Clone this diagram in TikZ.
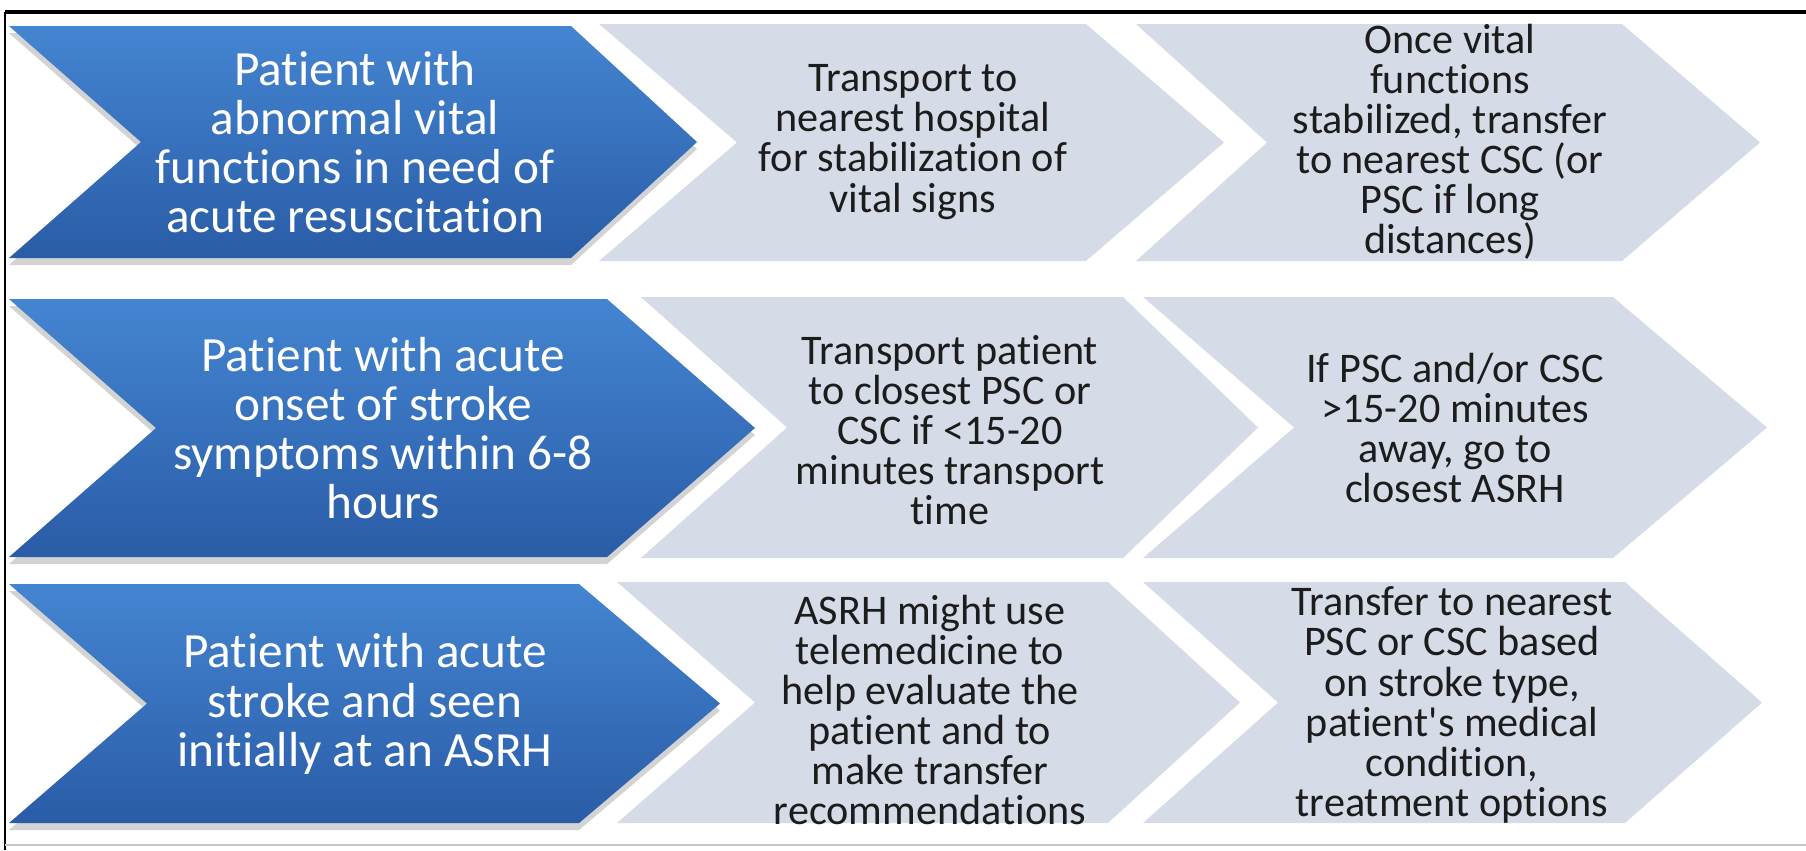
\documentclass[tikz,border=0pt]{standalone}
\usepackage{fontspec}
\setmainfont{Carlito}[Ligatures=NoCommon]
\usetikzlibrary{shadows}

\definecolor{bluetop}{HTML}{4485D1}
\definecolor{bluebot}{HTML}{2A5CA7}
\definecolor{chevgray}{HTML}{D5DCE7}
\definecolor{txtgray}{HTML}{1C1C1C}

\begin{document}
\begin{tikzpicture}[x=0.01cm,y=-0.01cm,
    bluechev/.style={top color=bluetop,bottom color=bluebot,
        drop shadow={shadow xshift=0pt,shadow yshift=-2pt,opacity=.35}},
    graychev/.style={fill=chevgray},
    bluetxt/.style={text=white,align=center,inner sep=0pt,
        font=\fontsize{14}{14}\selectfont},
    graytxt/.style={text=txtgray,align=center,inner sep=0pt,
        font=\fontsize{12}{11.4}\selectfont}]

            \useasboundingbox (0,0) rectangle (1806,850);

            % Frame round the figure
            \draw[line width=1.2pt] (5,12) -- (1806,12);
            \draw[line width=.6pt] (5,12) -- (5,850);
            \draw[gray!45,line width=.7pt] (5,845) -- (1806,845);

            % Blue chevrons, one per row
            \foreach \xl/\xn/\xc/\xt/\ya/\yb in {
            9/141/571/697/26/258,
            9/156/607/755/299/557,
            9/147/579/720/584/823} {
            \path[bluechev] (\xl,\ya) -- (\xc,\ya) -- (\xt,{(\ya+\yb)/2})
                -- (\xc,\yb) -- (\xl,\yb) -- (\xn,{(\ya+\yb)/2}) -- cycle;
            }

            % Gray chevrons, two per row
            \foreach \xl/\xn/\xc/\xt/\ya/\yb in {
            599/737/1086/1224/24/261,
            1136/1267/1622/1760/24/261,
            641/787/1123/1258/297/558,
            1143/1294/1613/1767/297/558,
            617/755/1108/1240/582/823,
            1143/1278/1625/1762/582/823} {
            \path[graychev] (\xl,\ya) -- (\xc,\ya) -- (\xt,{(\ya+\yb)/2})
                -- (\xc,\yb) -- (\xl,\yb) -- (\xn,{(\ya+\yb)/2}) -- cycle;
            }

            % Texts of row 1
            \node[bluetxt] (vital) at (355,142) {Patient with\\abnormal vital\\functions in need of\\acute resuscitation};
            \node[graytxt] (nearest) at (913,142) {Transport to\\nearest hospital\\for stabilization of\\vital signs};
            \node[graytxt] (stabil) at (1450,142) {Once vital\\functions\\stabilized, transfer\\to nearest CSC (or\\PSC if long\\distances)};

            % Texts of row 2
            \node[bluetxt] (onset) at (383,428) {Patient with acute\\onset of stroke\\symptoms within 6-8\\hours};
            \node[graytxt] (closest) at (950,430) {Transport patient\\to closest PSC or\\CSC if <15-20\\minutes transport\\time};
            \node[graytxt] (away) at (1455,428) {If PSC and/or CSC\\>15-20 minutes\\away, go to\\closest ASRH};

            % Texts of row 3
            \node[bluetxt] (asrh) at (365,704) {Patient with acute\\stroke and seen\\initially at an ASRH};
            \node[graytxt] (tele) at (930,710) {ASRH might use\\telemedicine to\\help evaluate the\\patient and to\\make transfer\\recommendations};
            \node[graytxt] (transfer) at (1452,705) {Transfer to nearest\\PSC or CSC based\\on stroke type,\\patient\textquotesingle s medical\\condition,\\treatment options};

        \end{tikzpicture}
\end{document}
